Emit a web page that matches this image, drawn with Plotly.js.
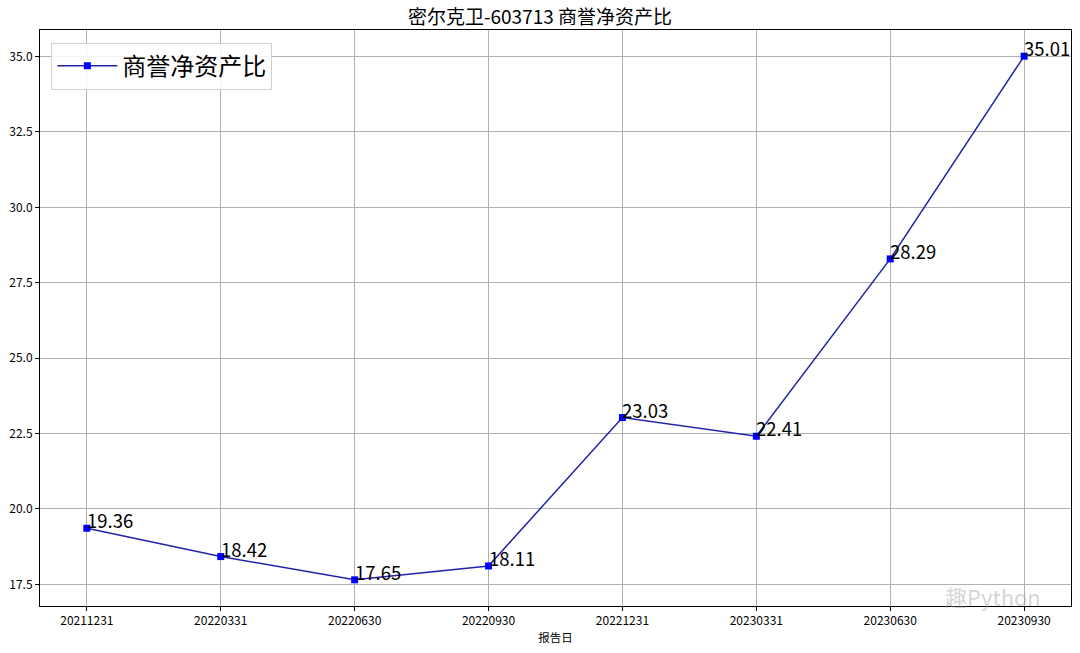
<!DOCTYPE html>
<html>
<head>
<meta charset="utf-8">
<script src="https://cdn.plot.ly/plotly-3.0.1.min.js"></script>
<style>html,body{margin:0;padding:0;background:#fff;}#chart{width:1080px;height:653px;}</style>
</head>
<body>
<div id="chart"></div>
<script>
const categories = ["20211231","20220331","20220630","20220930","20221231","20230331","20230630","20230930"];
const values = [19.36, 18.42, 17.65, 18.11, 23.03, 22.41, 28.29, 35.01];
const seriesName = "商誉净资产比";
const chartTitle = "密尔克卫-603713 商誉净资产比";
const xTitle = "报告日";
const yTickVals = [17.5, 20.0, 22.5, 25.0, 27.5, 30.0, 32.5, 35.0];
const yTickText = ["17.5","20.0","22.5","25.0","27.5","30.0","32.5","35.0"];

const FONT = "Noto Sans CJK SC, Noto Sans, sans-serif";
const xIdx = categories.map((c, i) => i);

const trace = {
  x: xIdx, y: values, type: "scatter", mode: "lines+markers", name: seriesName,
  line: {color: "#2222aa", width: 1.5},
  marker: {symbol: "square", size: 7, color: "#0000ff"}
};

const annotations = values.map((v, i) => ({
  x: i, y: v, xref: "x", yref: "y", text: v.toFixed(2), showarrow: false,
  xanchor: "left", yanchor: "bottom", xshift: -2, yshift: -7,
  font: {family: FONT, size: 18.5, color: "#000"}
}));
annotations.push({
  xref: "paper", yref: "paper", x: 0.973, y: 0.018, xanchor: "right", yanchor: "middle",
  text: "趣Python", showarrow: false,
  font: {family: FONT, size: 22, color: "rgba(160,160,160,0.45)"}
});

const layout = {
  width: 1080, height: 653,
  margin: {l: 40, r: 9, t: 30, b: 47},
  paper_bgcolor: "#fff", plot_bgcolor: "#fff",
  font: {family: FONT, size: 12, color: "#000"},
  title: {text: chartTitle, x: 0.5, xanchor: "center", y: 0.974, yanchor: "middle", font: {family: FONT, size: 19, color: "#000"}},
  xaxis: {
    range: [-0.35, 7.35], tickvals: xIdx, ticktext: categories,
    showgrid: true, gridcolor: "#b0b0b0", gridwidth: 1,
    showline: true, linecolor: "#000", linewidth: 1, mirror: true,
    ticks: "outside", ticklen: 4, tickcolor: "#000", zeroline: false,
    tickfont: {family: FONT, size: 12},
    title: {text: xTitle, font: {family: FONT, size: 11.5}, standoff: 6}
  },
  yaxis: {
    range: [16.782, 35.878], tickvals: yTickVals, ticktext: yTickText,
    showgrid: true, gridcolor: "#b0b0b0", gridwidth: 1,
    showline: true, linecolor: "#000", linewidth: 1, mirror: true,
    ticks: "outside", ticklen: 4, tickcolor: "#000", zeroline: false,
    tickfont: {family: FONT, size: 12}
  },
  showlegend: true,
  legend: {
    x: 0.011, y: 0.978, xanchor: "left", yanchor: "top",
    bgcolor: "rgba(255,255,255,0.85)", bordercolor: "#d0d0d0", borderwidth: 1,
    itemwidth: 60,
    font: {family: FONT, size: 24, color: "#000"}
  },
  annotations: annotations
};

Plotly.newPlot("chart", [trace], layout, {displayModeBar: false, staticPlot: true});
</script>
</body>
</html>
